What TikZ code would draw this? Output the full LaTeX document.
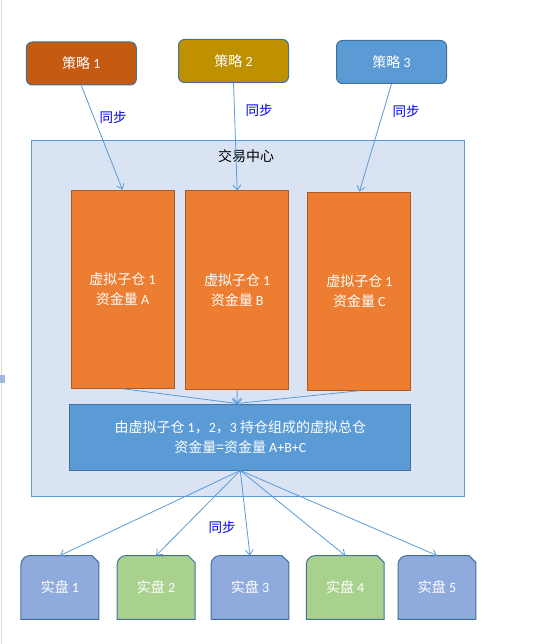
\documentclass[tikz,border=0pt]{standalone}
\usepackage{fontspec}
\setmainfont{Noto Sans CJK SC}
\newfontfamily\lat{Carlito}
\usetikzlibrary{arrows.meta}
\definecolor{cstrA}{HTML}{C55A11}
\definecolor{cstrB}{HTML}{BF9000}
\definecolor{cstrC}{HTML}{5B9BD5}
\definecolor{cedge}{HTML}{41719C}
\definecolor{ctc}{HTML}{DAE3F3}
\definecolor{ctcedge}{HTML}{5B9BD5}
\definecolor{corange}{HTML}{ED7D31}
\definecolor{corangeedge}{HTML}{AE5A21}
\definecolor{cblue}{HTML}{5B9BD5}
\definecolor{crealB}{HTML}{8FAADC}
\definecolor{crealG}{HTML}{A9D18E}
\definecolor{carrow}{HTML}{5B9BD5}
\definecolor{clabel}{HTML}{0000FF}
\pgfdeclarelayer{bg}
\pgfsetlayers{bg,main}
\tikzset{
  txt/.style={font=\fontsize{14}{20}\selectfont, text=white, align=center, inner sep=0pt},
  strat/.style={txt, draw=cedge, line width=1pt, rounded corners=6pt, minimum width=110pt, minimum height=43pt},
  vbox/.style={txt, draw=corangeedge, fill=corange, line width=1pt, minimum width=103pt, minimum height=198pt},
  total/.style={txt, draw=cedge, fill=cblue, line width=1pt, minimum width=340.7pt, minimum height=66pt},
  realbox/.style={txt, minimum width=77.5pt, minimum height=63.5pt},
  conn/.style={draw=carrow, line width=0.8pt, -{Straight Barb[length=5pt,width=8pt]}},
  synclabel/.style={font=\fontsize{13.5}{16}\selectfont, text=clabel, inner sep=0pt},
}
\newcommand{\realshape}[2]{%
  \draw[fill=#2, draw=cedge, line width=1pt]
    (#1.south west) -- ([yshift=-9pt]#1.north west)
    arc[start angle=180, end angle=90, radius=9pt]
    -- ([xshift=-7pt]#1.north east) -- ([yshift=-7pt]#1.north east)
    -- (#1.south east) -- cycle;}
\begin{document}
\begin{tikzpicture}[x=1pt,y=-1pt]
\useasboundingbox (0,0) rectangle (533,644);
\begin{pgfonlayer}{bg}
\fill[white] (0,0) rectangle (533,644);
\end{pgfonlayer}
\draw[black!14, line width=1pt] (1.5,0) -- (1.5,644);
\fill[crealB!85!white] (0,375) rectangle (5,383);

% trading center
\node[draw=ctcedge, fill=ctc, line width=1pt, minimum width=433.2pt, minimum height=356.5pt, inner sep=0pt] (tc) at (247.9,318.6) {};
\node[font=\fontsize{14}{16}\selectfont, inner sep=0pt] (tctitle) at (246,156) {交易中心};

% strategies
\node[strat, fill=cstrA] (s1) at (81.3,63.5) {策略 {\lat 1}};
\node[strat, fill=cstrB] (s2) at (233.5,61) {策略 {\lat 2}};
\node[strat, fill=cstrC] (s3) at (391.5,62) {策略 {\lat 3}};

% virtual sub-warehouses
\node[vbox] (v1) at (122.5,289.2) {虚拟子仓 {\lat 1}\\资金量 {\lat A}};
\node[vbox] (v2) at (237.2,290) {虚拟子仓 {\lat 1}\\资金量 {\lat B}};
\node[vbox] (v3) at (359.4,291.2) {虚拟子仓 {\lat 1}\\资金量 {\lat C}};

% total
\node[total] (tot) at (240.3,437) {由虚拟子仓 {\lat 1}，{\lat 2}，{\lat 3} 持仓组成的虚拟总仓\\资金量={\lat }资金量 {\lat A+B+C}};
\coordinate (totin) at ([xshift=-3.3pt]tot.north);

% real accounts
\node[realbox] (r1) at (59.9,587.5) {实盘 {\lat 1}};
\node[realbox] (r2) at (156.1,587.5) {实盘 {\lat 2}};
\node[realbox] (r3) at (250,587.5) {实盘 {\lat 3}};
\node[realbox] (r4) at (345.2,587.5) {实盘 {\lat 4}};
\node[realbox] (r5) at (437,587.5) {实盘 {\lat 5}};
\begin{pgfonlayer}{bg}
\realshape{r1}{crealB}
\realshape{r2}{crealG}
\realshape{r3}{crealB}
\realshape{r4}{crealG}
\realshape{r5}{crealB}
\end{pgfonlayer}

% connectors
\draw[conn] (s1.south) -- (v1.north);
\draw[conn] (s2.south) -- (v2.north);
\draw[conn] (s3.south) -- (v3.north);
\draw[conn] (v1.south) -- (totin);
\draw[conn] (v2.south) -- (totin);
\draw[conn] (v3.south) -- (totin);
\foreach \r in {r1,r2,r3,r4,r5}{
  \draw[conn] (tot.south) -- (\r.north);
}

% labels
\node[synclabel] (l1) at (113,117) {同步};
\node[synclabel] (l2) at (259,110) {同步};
\node[synclabel] (l3) at (406,111) {同步};
\node[synclabel] (l4) at (222,527) {同步};
\end{tikzpicture}
\end{document}
